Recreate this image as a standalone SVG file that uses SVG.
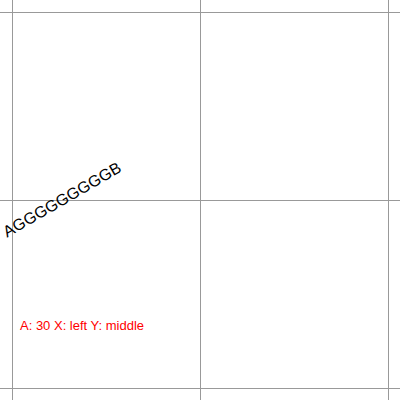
<svg xmlns="http://www.w3.org/2000/svg" width="400" height="400" viewBox="0 0 400 400">
<style>
.grid{stroke:#999;stroke-width:1;fill:none}
.t{font-family:"Liberation Sans",Arial,sans-serif}
</style>
<rect width="400" height="400" fill="#fff"/>
<g id="grid">
<line class="grid" x1="12.5" y1="0" x2="12.5" y2="400"/>
<line class="grid" x1="200.5" y1="0" x2="200.5" y2="400"/>
<line class="grid" x1="388.5" y1="0" x2="388.5" y2="400"/>
<line class="grid" x1="0" y1="12.5" x2="400" y2="12.5"/>
<line class="grid" x1="0" y1="200.5" x2="400" y2="200.5"/>
<line class="grid" x1="0" y1="388.5" x2="400" y2="388.5"/>
</g>
<text class="t" x="5" y="234" font-size="16" dominant-baseline="middle" transform="rotate(-30 5 234)">AGGGGGGGGGB</text>
<text class="t" x="20" y="330" font-size="13" fill="#f00">A: 30 X: left Y: middle</text>
</svg>
